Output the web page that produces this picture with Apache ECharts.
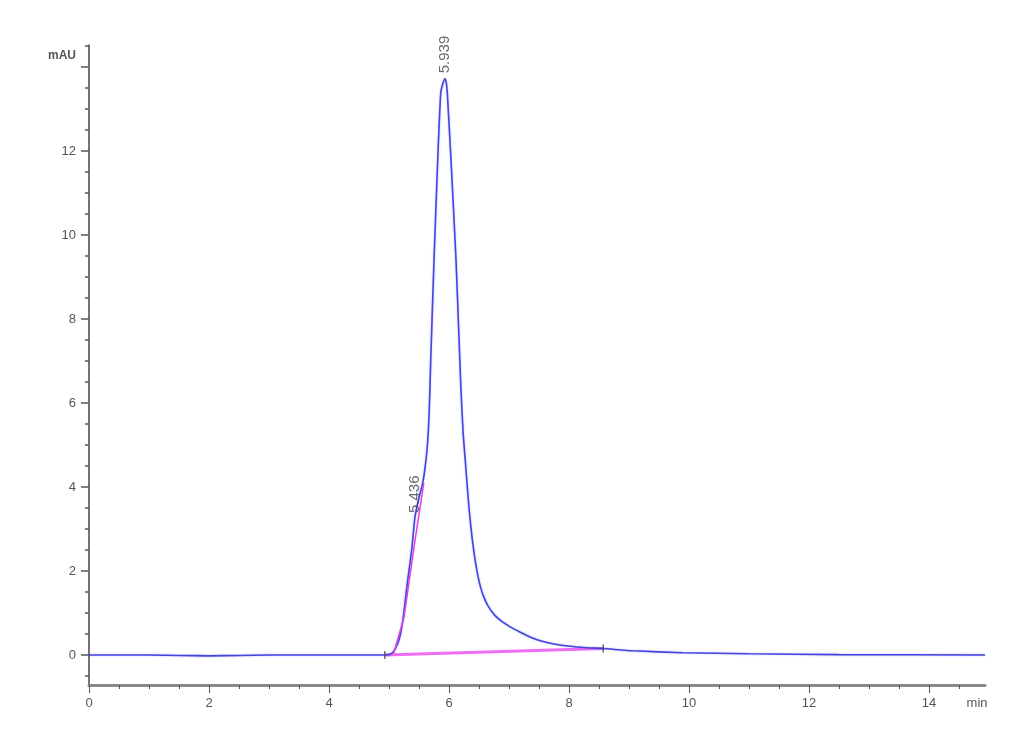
<!DOCTYPE html>
<html><head><meta charset="utf-8">
<script src="https://cdn.jsdelivr.net/npm/echarts@6/dist/echarts.min.js"></script>
<style>html,body{margin:0;padding:0;background:#fff}#c{width:1030px;height:755px}</style>
</head><body><div id="c"></div>
<script>
// Chromatogram trace (time in min, signal in mAU)
const timeMin = [0, 0.5, 1, 1.5, 2, 2.5, 3, 3.5, 4, 4.5, 4.93, 5.0, 5.072, 5.15, 5.195, 5.238, 5.305, 5.378, 5.433, 5.50, 5.562, 5.60, 5.64, 5.67, 5.695, 5.75, 5.812, 5.862, 5.90, 5.933, 5.955, 5.972, 6.033, 6.117, 6.165, 6.20, 6.235, 6.267, 6.305, 6.34, 6.38, 6.42, 6.46, 6.51, 6.57, 6.65, 6.76, 6.88, 7.02, 7.18, 7.40, 7.60, 7.85, 8.24, 8.57, 9.07, 9.9, 11, 12.5, 14.933];
const signalMAU = [0, 0, 0, -0.01, -0.02, -0.01, 0, 0, 0, 0, 0, 0.01, 0.07, 0.29, 0.52, 0.9, 1.71, 2.5, 3.29, 3.75, 4.10, 4.45, 5.0, 5.8, 7.0, 9.40, 11.79, 13.38, 13.62, 13.72, 13.62, 13.38, 11.79, 9.40, 7.6, 6.3, 5.3, 4.7, 4.0, 3.4, 2.85, 2.4, 2.05, 1.7, 1.42, 1.17, 0.95, 0.8, 0.67, 0.55, 0.40, 0.31, 0.24, 0.18, 0.155, 0.10, 0.055, 0.03, 0.01, 0];
// integration baseline
const baselineTime = [4.93, 8.57];
const baselineMAU = [0, 0.155];
// shoulder peak fit
const shoulderTime = [5.08, 5.25, 5.42, 5.58];
const shoulderMAU = [0.05, 0.9, 2.6, 4.1];
// peak retention time labels
const peakTimes = [5.933, 5.433];
const peakLabelMAU = [13.85, 3.38];
const peakLabels = ['5.939', '5.436'];
// integration markers
const markerTimes = [4.93, 8.57];
const markerMAU = [0, 0.155];
// ticks
const xMajorTicks = [0, 2, 4, 6, 8, 10, 12, 14];
const xMinorTicks = [0.5, 1, 1.5, 2.5, 3, 3.5, 4.5, 5, 5.5, 6.5, 7, 7.5, 8.5, 9, 9.5, 10.5, 11, 11.5, 12.5, 13, 13.5, 14.5];
const xTickLabels = [0, 2, 4, 6, 8, 10, 12, 14];
const yMajorTicks = [0, 2, 4, 6, 8, 10, 12, 14];
const yMinorTicks = [-0.5, 0.5, 1, 1.5, 2.5, 3, 3.5, 4.5, 5, 5.5, 6.5, 7, 7.5, 8.5, 9, 9.5, 10.5, 11, 11.5, 12.5, 13, 13.5, 14.5];
const yTickLabels = [0, 2, 4, 6, 8, 10, 12];
const xUnitLabel = 'min';
const yUnitLabel = 'mAU';

const X_MIN = 0, X_MAX = 14.933, Y_MIN = -0.714, Y_MAX = 14.524;
const FONT = "'Liberation Sans', Arial, sans-serif";
const chart = echarts.init(document.getElementById('c'));
const zip = (a, b) => a.map((v, i) => [v, b[i]]);

chart.setOption({
  animation: false,
  backgroundColor: '#fff',
  grid: { left: 89, right: 45, top: 45, bottom: 70 },
  xAxis: [
    {
      type: 'value', min: X_MIN, max: X_MAX,
      axisLine: { onZero: false, lineStyle: { color: '#888', width: 3 } },
      axisTick: { customValues: xMajorTicks, length: 8, lineStyle: { color: '#555', width: 1 } },
      axisLabel: {
        customValues: xTickLabels.concat([14.8]),
        formatter: v => (v > 14.5 ? xUnitLabel : String(v)),
        margin: 12, color: '#555', fontSize: 13, fontFamily: FONT
      },
      splitLine: { show: false }
    },
    {
      type: 'value', min: X_MIN, max: X_MAX, position: 'bottom',
      axisLine: { show: false, onZero: false },
      axisTick: { customValues: xMinorTicks, length: 4, lineStyle: { color: '#555', width: 1 } },
      axisLabel: { show: false },
      splitLine: { show: false }
    }
  ],
  yAxis: [
    {
      type: 'value', min: Y_MIN, max: Y_MAX,
      name: yUnitLabel, nameLocation: 'end', nameGap: -11,
      nameTextStyle: { align: 'right', verticalAlign: 'middle', padding: [0, 13, 0, 0], color: '#555', fontSize: 12, fontWeight: 'bold', fontFamily: FONT },
      axisLine: { onZero: false, lineStyle: { color: '#444', width: 1.5 } },
      axisTick: { customValues: yMajorTicks, length: 8, lineStyle: { color: '#555', width: 1.5 } },
      axisLabel: { customValues: yTickLabels, margin: 13, color: '#555', fontSize: 13, fontFamily: FONT },
      splitLine: { show: false }
    },
    {
      type: 'value', min: Y_MIN, max: Y_MAX, position: 'left',
      axisLine: { show: false, onZero: false },
      axisTick: { customValues: yMinorTicks, length: 4, lineStyle: { color: '#555', width: 1.5 } },
      axisLabel: { show: false },
      splitLine: { show: false }
    }
  ],
  series: [
    {
      type: 'line', data: zip(timeMin, signalMAU), showSymbol: false, symbol: 'none',
      smooth: 0.2,
      lineStyle: { color: '#4545dd', width: 1.6, shadowColor: 'rgba(90,90,255,0.45)', shadowBlur: 2 },
      z: 3
    },
    {
      type: 'line', data: zip(baselineTime, baselineMAU), symbol: 'none',
      lineStyle: { color: '#f06cf0', width: 3 }, z: 2
    },
    {
      type: 'line', data: zip(shoulderTime, shoulderMAU), symbol: 'none',
      lineStyle: { color: '#e040e0', width: 1.5 }, z: 4
    },
    {
      type: 'scatter', data: zip(markerTimes, markerMAU), symbol: 'rect', symbolSize: [1.5, 8],
      itemStyle: { color: '#444' }, z: 5
    },
    {
      type: 'scatter', data: peakTimes.map((t, i) => [t, peakLabelMAU[i], peakLabels[i]]),
      symbolSize: 0,
      label: {
        show: true, position: 'inside', rotate: 90, align: 'left', verticalAlign: 'middle',
        formatter: p => p.data[2], color: '#444', fontSize: 15, fontFamily: FONT
      },
      z: 6
    }
  ]
});
</script>
</body></html>
